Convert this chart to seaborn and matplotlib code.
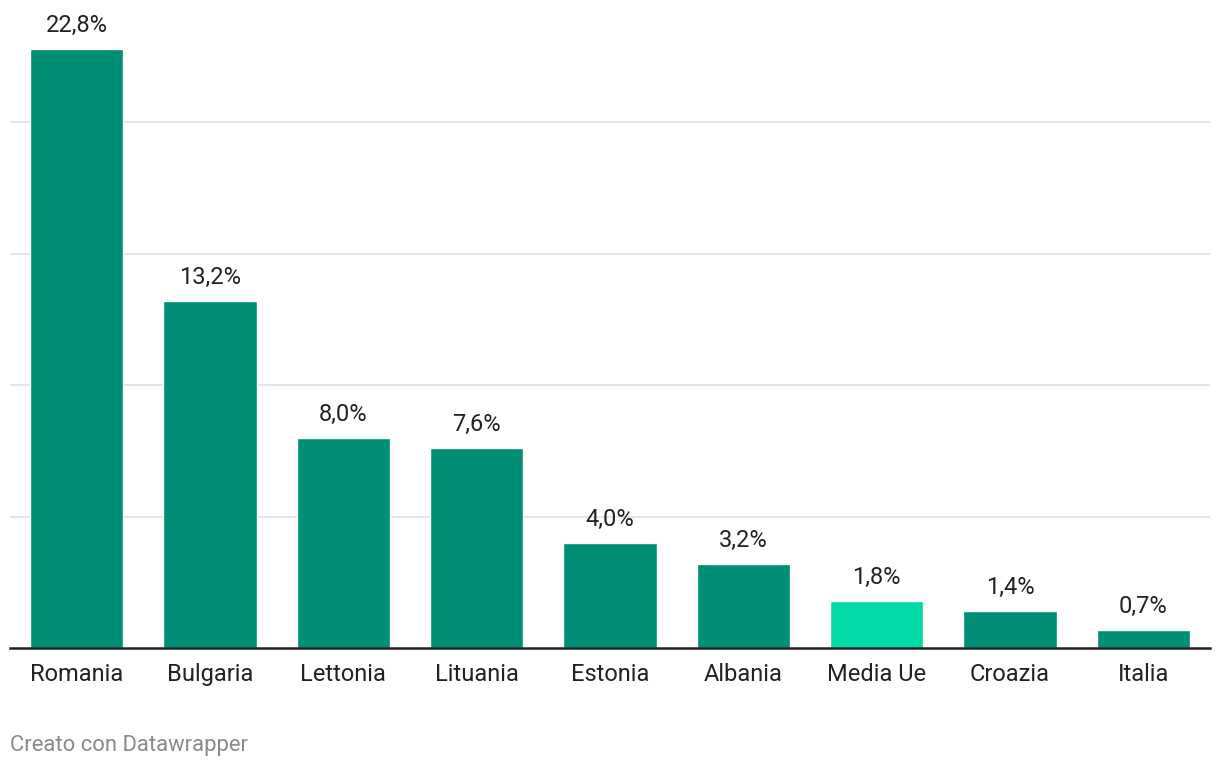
import seaborn as sns
import matplotlib.pyplot as plt
import pandas as pd

countries = ['Romania', 'Bulgaria', 'Lettonia', 'Lituania', 'Estonia',
             'Albania', 'Media Ue', 'Croazia', 'Italia']
values = [22.8, 13.2, 8.0, 7.6, 4.0, 3.2, 1.8, 1.4, 0.7]
labels = ['22,8%', '13,2%', '8,0%', '7,6%', '4,0%', '3,2%', '1,8%', '1,4%', '0,7%']

dark = '#008f75'
light = '#00dba6'
colors = [light if c == 'Media Ue' else dark for c in countries]

df = pd.DataFrame({'country': countries, 'value': values})

sns.set_theme(style='white')
plt.rcParams['font.family'] = ['Roboto', 'DejaVu Sans']

fig = plt.figure(figsize=(12.2, 7.68), dpi=100)
ax = fig.add_axes([10 / 1220, 120 / 768, 1200 / 1220, 631 / 768])

sns.barplot(data=df, x='country', y='value', hue='country', palette=colors,
            legend=False, width=0.70, saturation=1, ax=ax, zorder=2)

ax.set_xlim(-0.5, 8.5)
ax.set_ylim(0, 24)
ax.set_yticks([5, 10, 15, 20])
ax.yaxis.grid(True, color='#e3e3e3', linewidth=1.3, zorder=0)
ax.set_axisbelow(True)
ax.tick_params(axis='y', left=False, labelleft=False)
ax.tick_params(axis='x', length=0, pad=10.5, labelsize=17, colors='#222222')
ax.set_xlabel('')
ax.set_ylabel('')
for s in ['top', 'right', 'left']:
    ax.spines[s].set_visible(False)
ax.spines['bottom'].set_color('#222222')
ax.spines['bottom'].set_linewidth(1.8)

for i, (v, t) in enumerate(zip(values, labels)):
    ax.annotate(t, (i, v), xytext=(0, 8.5), textcoords='offset points',
                ha='center', va='bottom', fontsize=17, color='#222222',
                annotation_clip=False)

fig.text(10 / 1220, 1 - 745 / 768, 'Creato con Datawrapper', fontsize=15.8,
         color='#8a8a8a', ha='left', va='center')

fig.savefig('out.png', dpi=100)
